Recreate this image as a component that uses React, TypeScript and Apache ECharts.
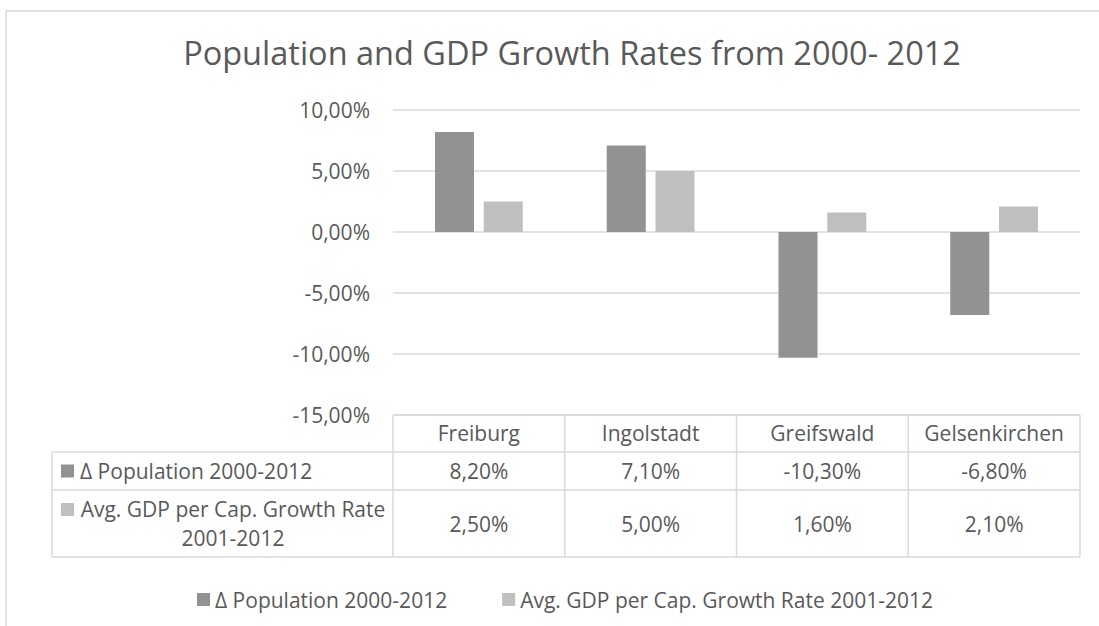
import React, { useEffect, useRef } from "react";
import * as echarts from "echarts";

const categories = ["Freiburg", "Ingolstadt", "Greifswald", "Gelsenkirchen"];
const populationChange = [8.2, 7.1, -10.3, -6.8];
const gdpGrowth = [2.5, 5.0, 1.6, 2.1];
const seriesNames = ["Δ Population 2000-2012", "Avg. GDP per Cap. Growth Rate 2001-2012"];
const tableRowLabels = [["Δ Population 2000-2012"], ["Avg. GDP per Cap. Growth Rate", "2001-2012"]];
const yMin = -15;
const yMax = 10;
const yInterval = 5;
const titleText = "Population and GDP Growth Rates from 2000- 2012";

const W = 1099;
const H = 626;
const GRID_L = 393;
const GRID_R = 1080;
const GRID_T = 110;
const GRID_B = 415;
const TABLE_L = 52;
const ROW_Y = [415, 452, 490, 557];
const TEXT = "#595959";
const LINE = "#d9d9d9";
const COLORS = ["#929292", "#bfbfbf"];
const FONT = '"Open Sans", sans-serif';
const FS = 21;

const fmt = (v: number) => v.toFixed(2).replace(".", ",") + "%";

export default function App() {
  const ref = useRef<HTMLDivElement>(null);
  useEffect(() => {
    const chart = echarts.init(ref.current!, null, { renderer: "svg", width: W, height: H });
    const colW = (GRID_R - GRID_L) / categories.length;
    const g: any[] = [];
    // outer frame
    g.push({ type: "polyline", shape: { points: [[6, H], [6, 11], [W, 11]] }, style: { stroke: LINE, fill: null, lineWidth: 1.5 }, silent: true });
    // horizontal table lines
    g.push({ type: "line", shape: { x1: GRID_L, y1: ROW_Y[0], x2: GRID_R, y2: ROW_Y[0] }, style: { stroke: LINE, lineWidth: 1.5 } });
    for (let i = 1; i < ROW_Y.length; i++) {
      g.push({ type: "line", shape: { x1: TABLE_L, y1: ROW_Y[i], x2: GRID_R, y2: ROW_Y[i] }, style: { stroke: LINE, lineWidth: 1.5 } });
    }
    g.push({ type: "line", shape: { x1: TABLE_L, y1: ROW_Y[1], x2: TABLE_L, y2: ROW_Y[3] }, style: { stroke: LINE, lineWidth: 1.5 } });
    for (let c = 0; c <= categories.length; c++) {
      const x = GRID_L + c * colW;
      g.push({ type: "line", shape: { x1: x, y1: ROW_Y[0], x2: x, y2: ROW_Y[3] }, style: { stroke: LINE, lineWidth: 1.5 } });
    }
    const rows = [populationChange, gdpGrowth];
    rows.forEach((vals, r) => {
      const cy = (ROW_Y[r + 1] + ROW_Y[r + 2]) / 2;
      vals.forEach((v, c) => {
        g.push({ type: "text", style: { text: fmt(v), x: GRID_L + (c + 0.5) * colW, y: cy, align: "center", verticalAlign: "middle", fill: TEXT, fontSize: FS, fontFamily: FONT } });
      });
      const lines = tableRowLabels[r];
      const markerY = lines.length === 1 ? cy : cy - 14;
      g.push({ type: "rect", shape: { x: 61, y: markerY - 6.5, width: 13, height: 13 }, style: { fill: COLORS[r] } });
      if (lines.length === 1) {
        g.push({ type: "text", style: { text: lines[0], x: 80, y: cy, align: "left", verticalAlign: "middle", fill: TEXT, fontSize: FS, fontFamily: FONT } });
      } else {
        lines.forEach((ln, k) => {
          g.push({ type: "text", style: { text: ln, x: 233, y: cy - 15 + k * 29, align: "center", verticalAlign: "middle", fill: TEXT, fontSize: FS, fontFamily: FONT } });
        });
      }
    });

    chart.setOption({
      animation: false,
      title: {
        text: titleText,
        left: 567,
        top: 31,
        textAlign: "center",
        textStyle: { color: TEXT, fontSize: 32.5, fontWeight: "normal", fontFamily: FONT },
      },
      legend: {
        left: 192,
        top: 584,
        itemWidth: 13,
        itemHeight: 13,
        itemGap: 55,
        icon: "rect",
        textStyle: { color: TEXT, fontSize: FS, fontFamily: FONT },
        data: seriesNames,
      },
      grid: { left: GRID_L, right: W - GRID_R, top: GRID_T, bottom: H - GRID_B, containLabel: false },
      xAxis: {
        type: "category",
        data: categories,
        position: "bottom",
        axisLine: { show: false },
        axisTick: { show: false },
        splitLine: { show: false },
        axisLabel: { interval: 0, color: TEXT, fontSize: FS, fontFamily: FONT, margin: 18, verticalAlign: "middle" },
      },
      yAxis: {
        type: "value",
        min: yMin,
        max: yMax,
        interval: yInterval,
        axisLine: { show: false },
        axisTick: { show: false },
        splitLine: { lineStyle: { color: LINE, width: 1.5 } },
        axisLabel: { color: TEXT, fontSize: FS, fontFamily: FONT, margin: 23, formatter: (v: number) => fmt(v) },
      },
      series: [
        { name: seriesNames[0], type: "bar", data: populationChange, barWidth: 39, barGap: "25%", itemStyle: { color: COLORS[0] } },
        { name: seriesNames[1], type: "bar", data: gdpGrowth, barWidth: 39, barGap: "25%", itemStyle: { color: COLORS[1] } },
      ],
      graphic: g,
    });
    return () => chart.dispose();
  }, []);
  return <div ref={ref} style={{ position: "fixed", left: 0, top: 0, width: W, height: H, background: "#fff" }} />;
}
